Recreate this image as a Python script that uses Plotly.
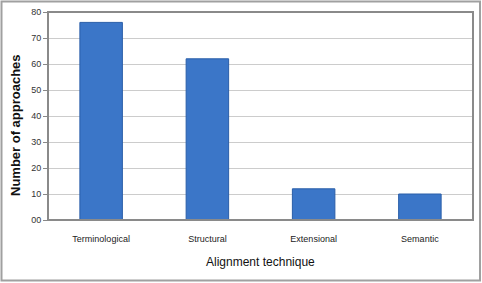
import plotly.graph_objects as go

categories = ["Terminological", "Structural", "Extensional", "Semantic"]
values = [76, 62, 12, 10]
y_tickvals = [0, 10, 20, 30, 40, 50, 60, 70, 80]
y_ticktext = ["00", "10", "20", "30", "40", "50", "60", "70", "80"]

fig = go.Figure()
fig.add_trace(go.Bar(
    x=categories, y=values, width=0.4,
    marker=dict(color="#3b76c8", line=dict(color="#2a5ea8", width=1)),
))

W, H = 482, 283
ml, mr, mt, mb = 48, 9, 12, 63
pw, ph = W - ml - mr, H - mt - mb

def px(x):
    return (x - ml) / pw

def py(y):
    return (H - mb - y) / ph

fig.update_layout(
    width=W, height=H,
    margin=dict(l=ml, r=mr, t=mt, b=mb, autoexpand=False),
    paper_bgcolor="white", plot_bgcolor="white",
    showlegend=False,
    font=dict(family="Liberation Sans, Arial, sans-serif", color="#222"),
    xaxis=dict(
        showline=False, ticks="outside", ticklen=10, tickcolor="rgba(0,0,0,0)",
        showgrid=False, automargin=False,
        tickfont=dict(size=9, color="#222"),
    ),
    yaxis=dict(
        range=[0, 80], tickvals=y_tickvals, ticktext=y_ticktext,
        showgrid=True, gridcolor="#cccccc", gridwidth=1,
        ticks="outside", ticklen=4, tickcolor="#888",
        tickfont=dict(size=9, color="#333"),
        showline=False, zeroline=False, automargin=False,
    ),
    annotations=[
        dict(text="Alignment technique", xref="paper", yref="paper",
             x=px(260), y=py(262), xanchor="center", yanchor="middle",
             showarrow=False, font=dict(size=12, color="#111")),
        dict(text="<b>Number of approaches</b>", xref="paper", yref="paper",
             x=px(15), y=py(125), xanchor="center", yanchor="middle",
             showarrow=False, textangle=-90,
             font=dict(size=13, color="#111")),
    ],
    shapes=[
        dict(type="rect", xref="paper", yref="paper",
             x0=0, x1=1, y0=0, y1=1,
             line=dict(color="#8a8a8a", width=2), layer="above"),
        dict(type="rect", xref="paper", yref="paper",
             x0=px(1.5), x1=px(480), y0=py(280.5), y1=py(1.5),
             line=dict(color="#a0a0a0", width=2)),
    ],
)

fig.write_html(
    "out.html",
    config={"displayModeBar": False},
    post_script="document.body.style.margin='0';document.body.style.overflow='hidden';",
)
